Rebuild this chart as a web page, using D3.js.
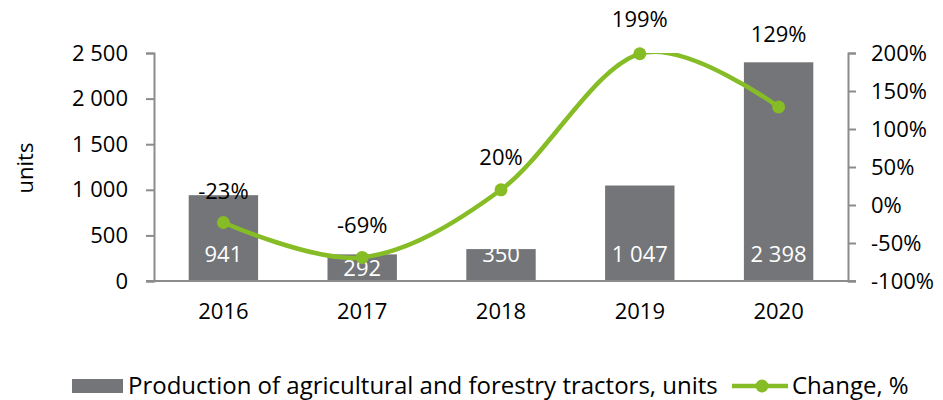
<!DOCTYPE html>
<html>
<head>
<meta charset="utf-8">
<script src="https://cdn.jsdelivr.net/npm/d3@7"></script>
<style>
  body { margin: 0; background: #fff; }
  text { font-family: "Open Sans", sans-serif; fill: #000; }
</style>
</head>
<body>
<svg id="chart"></svg>
<script>
// chart data
const years = ['2016', '2017', '2018', '2019', '2020'];
const production = [941, 292, 350, 1047, 2398];
const changePct = [-23, -69, 20, 199, 129];
const unitTicks = [0, 500, 1000, 1500, 2000, 2500];
const pctTicks = [-100, -50, 0, 50, 100, 150, 200];

const width = 943;
const height = 400;
const plot = { left: 154, right: 848, top: 53, bottom: 281 };
const barColor = '#737578';
const green = '#86bc25';
const axisColor = '#8c8c8c';
const fontSize = '22px';

// lift of the % labels above their points, the last one sits above its bar
const pctLabelLift = [31, 32, 33, 34, 73];
// the "292" label was nudged down in the original
const barLabelShift = [0, 14, 0, 0, 0];

const locale = d3.formatLocale({ decimal: ',', thousands: '\u00a0', grouping: [3], currency: ['', ''] });
const fmtUnits = locale.format(',d');

const svg = d3.select('#chart')
    .attr('width', width)
    .attr('height', height);

const x = d3.scaleBand()
    .domain(years)
    .range([plot.left, plot.right])
    .paddingInner(0.5)
    .paddingOuter(0.25);

const yLeft = d3.scaleLinear()
    .domain([0, 2500])
    .range([plot.bottom, plot.top]);

const yRight = d3.scaleLinear()
    .domain([-100, 200])
    .range([plot.bottom, plot.top]);

svg.append('defs').append('clipPath')
    .attr('id', 'plot-clip')
    .append('rect')
    .attr('x', 0)
    .attr('y', plot.top)
    .attr('width', width)
    .attr('height', plot.bottom - plot.top + 20);

// bars
svg.selectAll('.bar')
    .data(production)
    .enter()
    .append('rect')
    .attr('class', 'bar')
    .attr('x', (d, i) => x(years[i]))
    .attr('y', d => yLeft(d))
    .attr('width', x.bandwidth())
    .attr('height', d => yLeft(0) - yLeft(d))
    .attr('fill', barColor);

// left axis
const leftAxis = svg.append('g')
    .attr('transform', `translate(${plot.left},0)`)
    .call(d3.axisLeft(yLeft).tickValues(unitTicks).tickFormat(fmtUnits).tickSize(8).tickPadding(18));

// right axis
const rightAxis = svg.append('g')
    .attr('transform', `translate(${plot.right},0)`)
    .call(d3.axisRight(yRight).tickValues(pctTicks).tickFormat(d => d + '%').tickSize(8).tickPadding(15));

[leftAxis, rightAxis].forEach(g => {
    g.select('.domain').attr('stroke', axisColor).attr('stroke-width', 2);
    g.selectAll('.tick line').attr('stroke', axisColor).attr('stroke-width', 2);
    g.selectAll('.tick text')
        .style('font-family', '"Open Sans", sans-serif')
        .style('font-size', fontSize)
        .attr('fill', '#000');
});

// bottom axis
const bottomAxis = svg.append('g')
    .attr('transform', `translate(0,${plot.bottom})`)
    .call(d3.axisBottom(x).tickSize(0).tickPadding(22));
bottomAxis.select('.domain').remove();
bottomAxis.selectAll('.tick text')
    .style('font-family', '"Open Sans", sans-serif')
    .style('font-size', fontSize)
    .attr('fill', '#000');
svg.append('line')
    .attr('x1', plot.left - 8)
    .attr('x2', plot.right + 8)
    .attr('y1', plot.bottom)
    .attr('y2', plot.bottom)
    .attr('stroke', axisColor)
    .attr('stroke-width', 2);

// bar value labels
svg.selectAll('.bar-label')
    .data(production)
    .enter()
    .append('text')
    .attr('class', 'bar-label')
    .attr('x', (d, i) => x(years[i]) + x.bandwidth() / 2)
    .attr('y', (d, i) => yLeft(0) - 19 + barLabelShift[i])
    .attr('text-anchor', 'middle')
    .style('font-size', fontSize)
    .style('fill', '#fff')
    .text(d => fmtUnits(d));

// change line (smoothed, clipped to the plot like Excel)
const line = d3.line()
    .x((d, i) => x(years[i]) + x.bandwidth() / 2)
    .y(d => yRight(d))
    .curve(d3.curveCardinal.tension(0));

svg.append('path')
    .datum(changePct)
    .attr('d', line)
    .attr('clip-path', 'url(#plot-clip)')
    .attr('fill', 'none')
    .attr('stroke', green)
    .attr('stroke-width', 4.5)
    .attr('stroke-linecap', 'round');

svg.selectAll('.dot')
    .data(changePct)
    .enter()
    .append('circle')
    .attr('class', 'dot')
    .attr('cx', (d, i) => x(years[i]) + x.bandwidth() / 2)
    .attr('cy', d => yRight(d))
    .attr('r', 6.5)
    .attr('fill', green);

svg.selectAll('.pct-label')
    .data(changePct)
    .enter()
    .append('text')
    .attr('class', 'pct-label')
    .attr('x', (d, i) => x(years[i]) + x.bandwidth() / 2)
    .attr('y', (d, i) => yRight(d) - pctLabelLift[i])
    .attr('dy', '0.35em')
    .attr('text-anchor', 'middle')
    .style('font-size', fontSize)
    .text(d => d + '%');

// y axis title
svg.append('text')
    .attr('transform', 'translate(25,168) rotate(-90)')
    .attr('dy', '0.35em')
    .attr('text-anchor', 'middle')
    .style('font-size', fontSize)
    .text('units');

// legend
const legend = svg.append('g').attr('transform', 'translate(0,386)');
legend.append('rect')
    .attr('x', 72)
    .attr('y', -7)
    .attr('width', 51)
    .attr('height', 14)
    .attr('fill', barColor);
legend.append('text')
    .attr('x', 128)
    .attr('dy', '0.35em')
    .style('font-size', '24px')
    .text('Production of agricultural and forestry tractors, units');
legend.append('line')
    .attr('x1', 732)
    .attr('x2', 788)
    .attr('stroke', green)
    .attr('stroke-width', 4.5);
legend.append('circle')
    .attr('cx', 762)
    .attr('r', 6.5)
    .attr('fill', green);
legend.append('text')
    .attr('x', 792)
    .attr('dy', '0.35em')
    .style('font-size', '24px')
    .text('Change, %');
</script>
</body>
</html>
